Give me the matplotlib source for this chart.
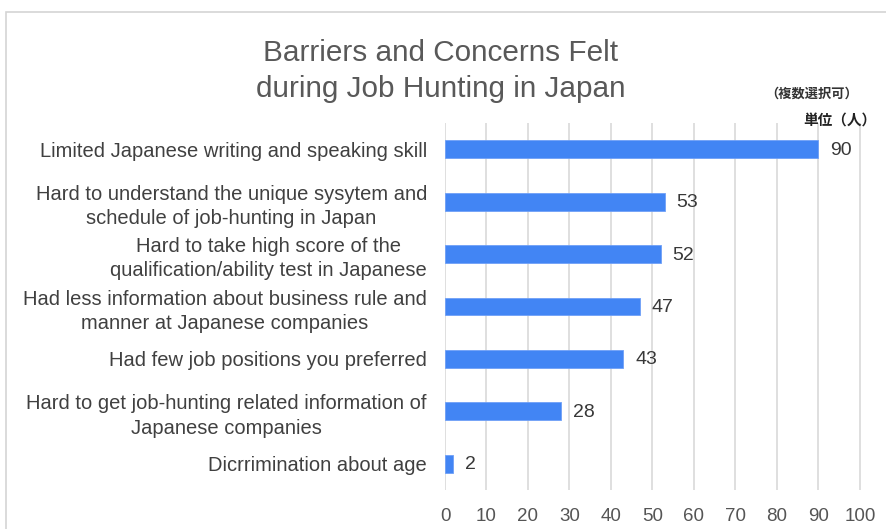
import matplotlib
matplotlib.use('Agg')
import matplotlib.pyplot as plt
from matplotlib.patches import Rectangle

plt.rcParams['font.family'] = ['Liberation Sans', 'Noto Sans CJK JP', 'DejaVu Sans']

# data
labels = [
    'Limited Japanese writing and speaking skill',
    'Hard to understand the unique sysytem and\nschedule of job-hunting in Japan',
    'Hard to take high score of the\nqualification/ability test in Japanese',
    'Had less information about business rule and\nmanner at Japanese companies',
    'Had few job positions you preferred',
    'Hard to get job-hunting related information of\nJapanese companies',
    'Dicrrimination about age',
]
values = [90, 53, 52, 47, 43, 28, 2]
xticks = list(range(0, 101, 10))

fig = plt.figure(figsize=(8.87, 5.29), dpi=100)
ax = fig.add_axes([0.5017, 0.0737, 0.4701, 0.6938])

# light frame around the chart
fig.patches.append(Rectangle((0.007, -0.05), 1.1, 1.027, transform=fig.transFigure,
                             fill=False, edgecolor='#d4d4d4', linewidth=1.2))

y = range(len(labels))
ax.barh(y, values, height=0.34, color='#4285F4', edgecolor='#6fa0f7', linewidth=0.6, zorder=3)
for yi, v in zip(y, values):
    ax.text(v + 2.8, yi + 0.02, str(v), va='center', ha='left', fontsize=14, color='#383838')

ax.set_ylim(len(labels) - 0.5, -0.5)
ax.set_xlim(0, 100.5)
ax.set_xticks(xticks)
ax.set_yticks(list(y))
ax.set_yticklabels(labels, fontsize=14.5, color='#404040', multialignment='center', linespacing=1.35)
ax.tick_params(axis='y', length=0, pad=13)
ax.tick_params(axis='x', length=0, pad=13, labelsize=13.5, labelcolor='#555555')
ax.xaxis.grid(True, color='#d9d9d9', linewidth=1.2, zorder=0)
for s in ax.spines.values():
    s.set_visible(False)

fig.text(0.497, 0.866, 'Barriers and Concerns Felt\nduring Job Hunting in Japan', ha='center', va='center',
         fontsize=21.4, color='#595959', linespacing=1.36)
fig.text(0.915, 0.823, '（複数選択可）', ha='center', va='center', fontsize=9.5,
         fontweight='bold', color='#333333', family=['Noto Sans CJK JP', 'DejaVu Sans'])
fig.text(0.947, 0.773, '単位（人）', ha='center', va='center', fontsize=10.5,
         fontweight='bold', color='#222222', family=['Noto Sans CJK JP', 'DejaVu Sans'])

fig.savefig('out.png', dpi=100, facecolor='white')
